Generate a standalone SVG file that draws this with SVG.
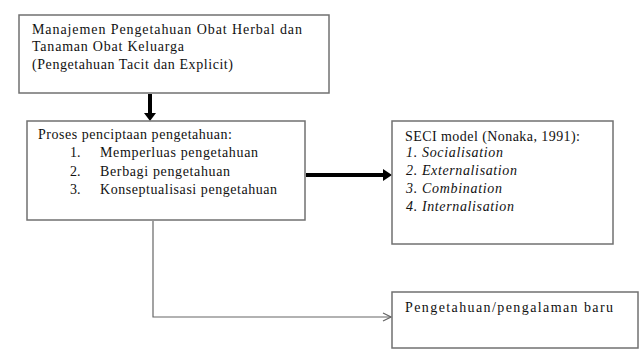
<svg xmlns="http://www.w3.org/2000/svg" width="640" height="350" viewBox="0 0 640 350">
<style>
.box{fill:#fff;stroke:#707070;stroke-width:1.5}
.t{font-family:"Liberation Serif","Times New Roman",serif;font-size:14px;fill:#111}
.i{font-style:italic}
.thick{stroke:#000;stroke-width:4;fill:none}
.thin{stroke:#666;stroke-width:1.2;fill:none}
</style>
<defs>
<marker id="open" markerWidth="10" markerHeight="10" refX="9" refY="5" orient="auto" markerUnits="userSpaceOnUse">
<path d="M1,1 L9,5 L1,9" fill="none" stroke="#666" stroke-width="1.2"/>
</marker>
</defs>
<rect width="640" height="350" fill="#fff"/>
<g id="connectors">
<line class="thick" x1="150" y1="94" x2="150" y2="114"/>
<path d="M144,113 L156,113 L150,121 Z" fill="#000"/>
<line class="thick" x1="306" y1="175" x2="384" y2="175"/>
<path d="M383,169 L392,175 L383,181 Z" fill="#000"/>
<polyline class="thin" points="153,221 153,317 391,317" marker-end="url(#open)"/>
</g>
<g id="node-manajemen">
<rect class="box" x="19" y="15" width="310" height="78"/>
<text class="t" x="32" y="34" textLength="270" lengthAdjust="spacing">Manajemen  Pengetahuan  Obat Herbal dan</text>
<text class="t" x="32" y="51" textLength="152" lengthAdjust="spacing">Tanaman Obat Keluarga</text>
<text class="t" x="32" y="69" textLength="201" lengthAdjust="spacing">(Pengetahuan Tacit dan Explicit)</text>
</g>
<g id="node-proses">
<rect class="box" x="27" y="121" width="278" height="99"/>
<text class="t" x="38" y="139" textLength="194" lengthAdjust="spacing">Proses penciptaan pengetahuan:</text>
<text class="t" x="70" y="157">1.</text>
<text class="t" x="100" y="157" textLength="158" lengthAdjust="spacing">Memperluas pengetahuan</text>
<text class="t" x="70" y="176">2.</text>
<text class="t" x="100" y="176" textLength="130" lengthAdjust="spacing">Berbagi pengetahuan</text>
<text class="t" x="70" y="194">3.</text>
<text class="t" x="100" y="194" textLength="177" lengthAdjust="spacing">Konseptualisasi pengetahuan</text>
</g>
<g id="node-seci">
<rect class="box" x="392" y="121" width="221" height="123"/>
<text class="t" x="405" y="141" textLength="175" lengthAdjust="spacing">SECI model (Nonaka, 1991):</text>
<text class="t i" x="406" y="157" textLength="97" lengthAdjust="spacing">1. Socialisation</text>
<text class="t i" x="406" y="175" textLength="111" lengthAdjust="spacing">2. Externalisation</text>
<text class="t i" x="406" y="193" textLength="96" lengthAdjust="spacing">3. Combination</text>
<text class="t i" x="406" y="211" textLength="108" lengthAdjust="spacing">4. Internalisation</text>
</g>
<g id="node-baru">
<rect class="box" x="392" y="292" width="246" height="56"/>
<text class="t" x="405" y="312" textLength="208" lengthAdjust="spacing">Pengetahuan/pengalaman baru</text>
</g>
</svg>
